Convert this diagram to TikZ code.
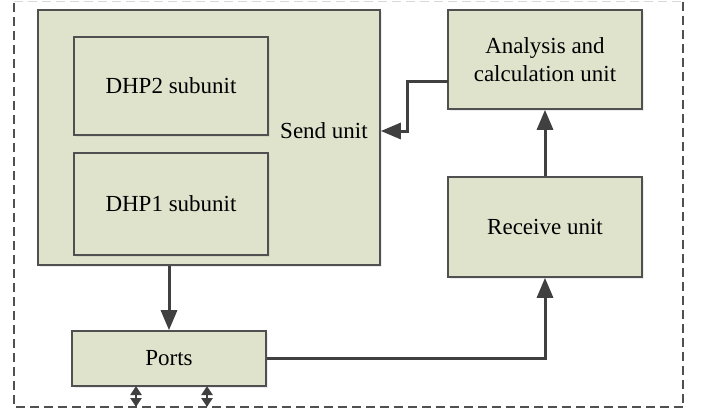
\documentclass[tikz,border=0pt]{standalone}
\usepackage{fontspec}
\setmainfont{Liberation Serif}
\usetikzlibrary{arrows.meta,shadows,calc}
\definecolor{boxfill}{HTML}{DFE3CC}
\definecolor{boxline}{HTML}{505050}
\definecolor{arrowc}{HTML}{404040}
\begin{document}
\begin{tikzpicture}[x=1pt,y=-1pt,
  unitbox/.style={draw=boxline,line width=1.6pt,fill=boxfill,rectangle,
    drop shadow={shadow xshift=2pt,shadow yshift=-2pt,opacity=0.15},
    align=center,inner sep=0pt,font=\fontsize{23}{28}\selectfont},
  flow/.style={draw=arrowc,line width=3pt,-{Triangle[length=20pt,width=16pt]}},
  small/.style={draw=arrowc,line width=2.6pt,{Triangle[length=9pt,width=11pt]}-{Triangle[length=9pt,width=11pt]}},
  frame/.style={line width=1.8pt,dash pattern=on 9pt off 5pt}
]
\useasboundingbox (0,0) rectangle (708,413);
\coordinate (fa) at (14,1.5);
\coordinate (fb) at (683,1.5);
\coordinate (fc) at (683,407);
\coordinate (fd) at (14,407);
\draw[frame,draw=black!15] (fa) -- (fb);
\draw[frame,draw=boxline] (fb) -- (fc) -- (fd) -- (fa);
\node[unitbox,minimum width=342pt,minimum height=255pt] (send) at (209,137.5) {};
\node[unitbox,minimum width=194pt,minimum height=98pt] (dhp2) at (171,86) {DHP2 subunit};
\node[unitbox,minimum width=194pt,minimum height=102pt] (dhp1) at (171,204) {DHP1 subunit};
\node[font=\fontsize{23}{28}\selectfont,inner sep=0pt] (sendlbl) at (324,131) {Send unit};
\node[unitbox,minimum width=194pt,minimum height=99pt] (analysis) at (545,59.5) {Analysis and\\calculation unit};
\node[unitbox,minimum width=194pt,minimum height=100pt] (receive) at (545,227) {Receive unit};
\node[unitbox,minimum width=194pt,minimum height=55pt] (ports) at (169,358.5) {Ports};
\coordinate (ae) at (448,81);
\coordinate (bend) at (407,131);
\coordinate (p1) at (136,386);
\coordinate (p1b) at (136,407);
\coordinate (p2) at (207,386);
\coordinate (p2b) at (207,407);
\draw[flow] (ports.north |- send.south) -- (ports.north);
\draw[flow] (ports.east) -- (receive.south |- ports.east) -- (receive.south);
\draw[flow] (receive.north) -- (analysis.south);
\draw[flow] (ae) -| (bend) -- (send.east |- bend);
\draw[small] (p1) -- (p1b);
\draw[small] (p2) -- (p2b);
\end{tikzpicture}
\end{document}
